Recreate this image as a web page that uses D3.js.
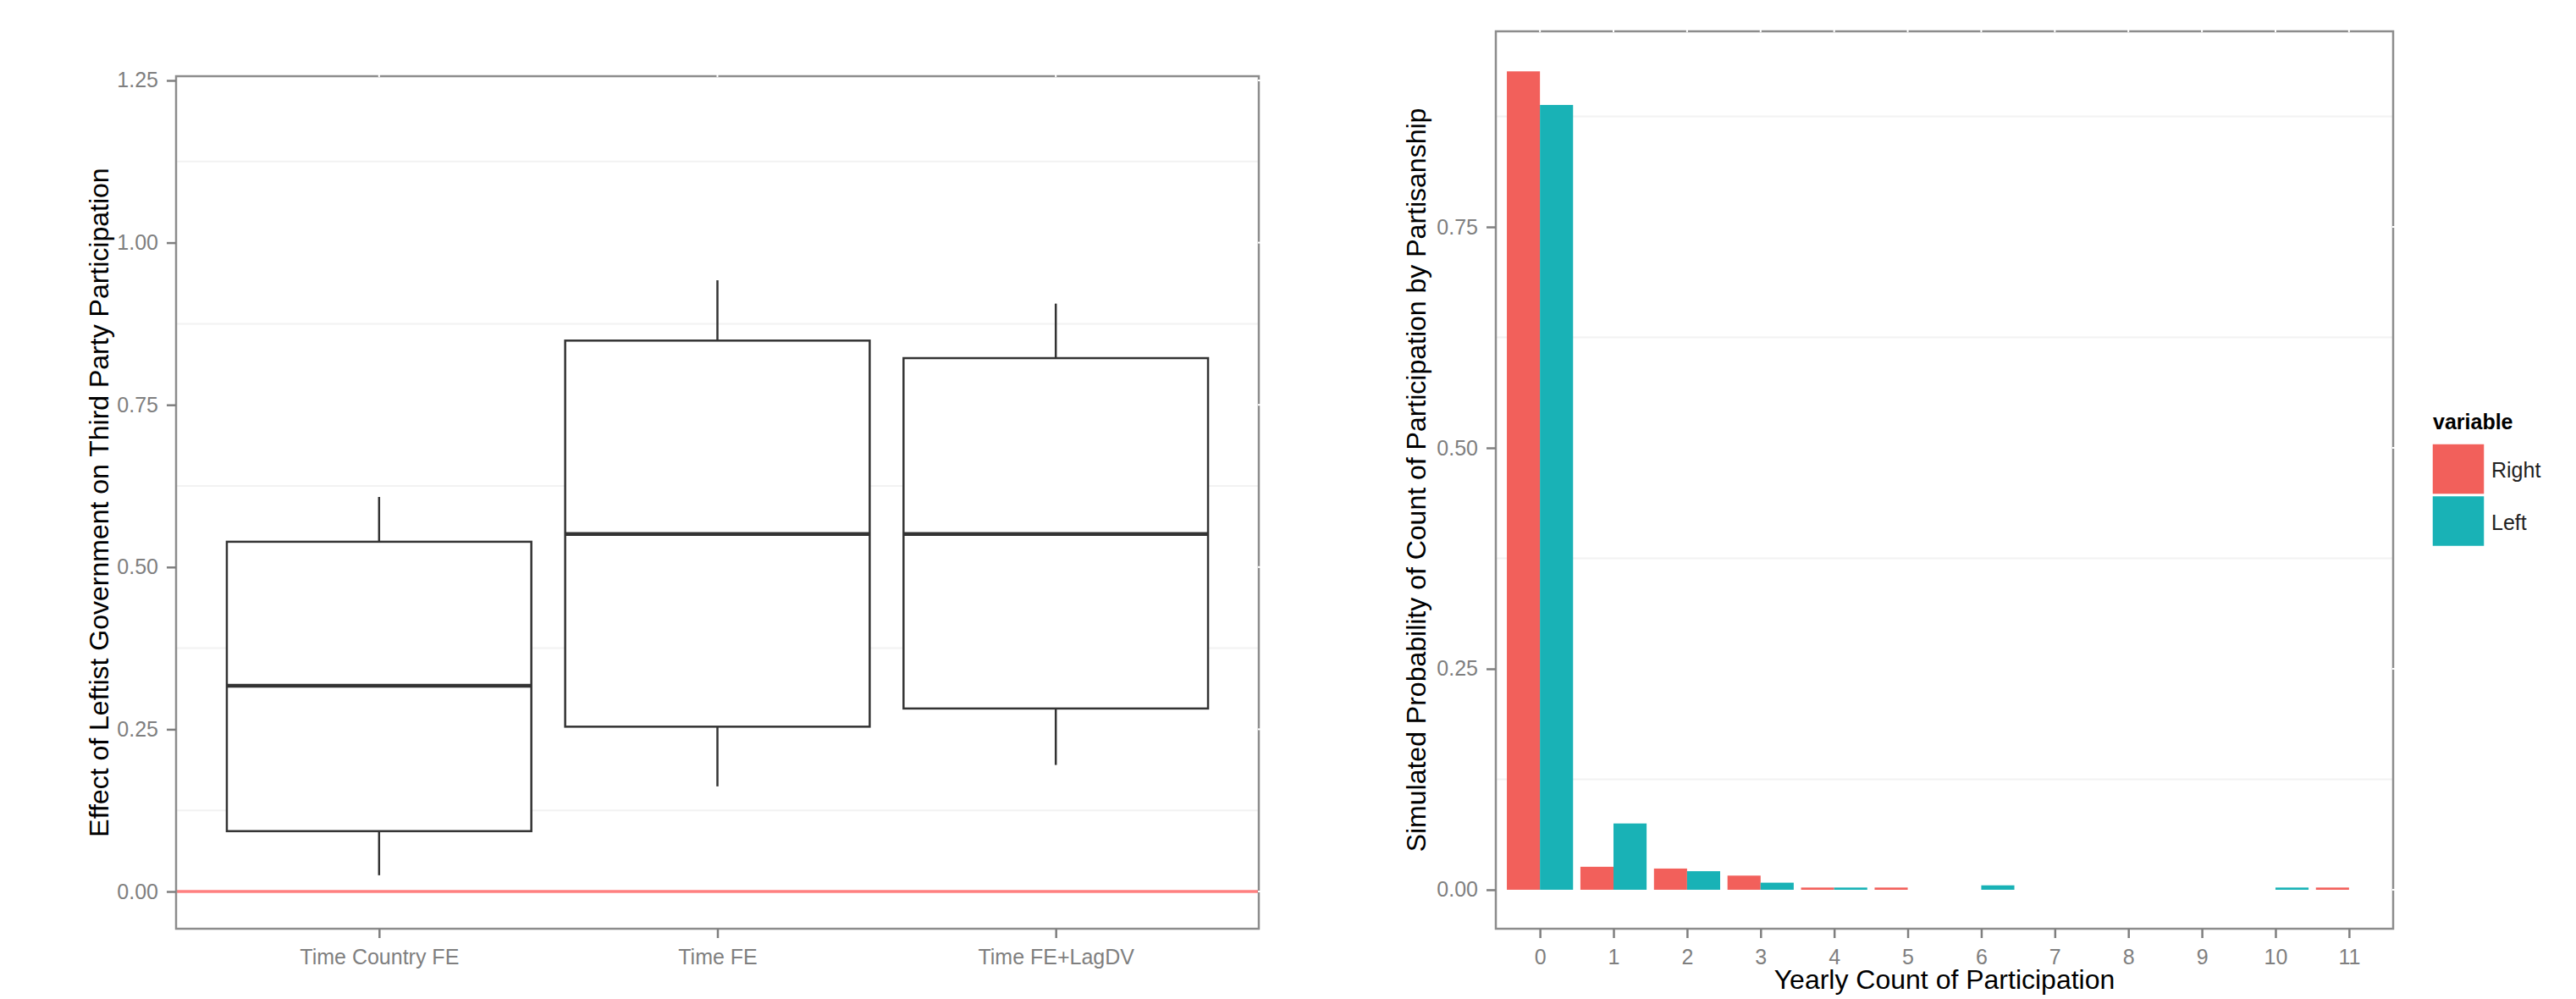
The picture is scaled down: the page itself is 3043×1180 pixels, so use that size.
<!DOCTYPE html>
<html>
<head>
<meta charset="utf-8">
<script src="https://cdn.jsdelivr.net/npm/d3@7"></script>
<style>
  body { margin: 0; background: #fff; }
  text { font-family: "Liberation Sans", Arial, sans-serif; }
</style>
</head>
<body>
<figure id="chart" style="margin:0"></figure>
<script>
// left panel: boxplot of estimated effect per model
const models = ["Time Country FE", "Time FE", "Time FE+LagDV"];
const whiskerLow = [0.025, 0.162, 0.195];
const quart1 = [0.093, 0.254, 0.282];
const medians = [0.317, 0.551, 0.551];
const quart3 = [0.539, 0.849, 0.822];
const whiskerHigh = [0.608, 0.942, 0.906];
const boxTicks = [0, 0.25, 0.5, 0.75, 1, 1.25];

// right panel: simulated probability of yearly count
const counts = ["0", "1", "2", "3", "4", "5", "6", "7", "8", "9", "10", "11"];
const seriesNames = ["Right", "Left"];
const rightProb = [0.926, 0.026, 0.024, 0.016, 0.0025, 0.0025, 0, 0, 0, 0, 0, 0.0025];
const leftProb = [0.888, 0.075, 0.021, 0.008, 0.0025, 0, 0.005, 0, 0, 0, 0.0025, 0];
const barTicks = [0, 0.25, 0.5, 0.75];
const seriesColors = ["#f2605b", "#19b2b6"];

const W = 3043, H = 1180;
const svg = d3.select("#chart").append("svg")
  .attr("width", W).attr("height", H)
  .style("display", "block");
svg.append("rect").attr("width", W).attr("height", H).attr("fill", "#fff");

const borderCol = "#8c8c8c";
const tickCol = "#7f7f7f";

function minorGrid(g, y, ticks, x0, x1) {
  const minors = d3.pairs(ticks).map(p => (p[0] + p[1]) / 2);
  g.append("g").selectAll("line").data(minors).enter().append("line")
    .attr("x1", x0).attr("x2", x1)
    .attr("y1", d => y(d)).attr("y2", d => y(d))
    .attr("stroke", "#f2f2f2").attr("stroke-width", 2);
}

function styleAxis(sel) {
  sel.select(".domain").remove();
  sel.selectAll(".tick line").attr("stroke", tickCol).attr("stroke-width", 2.5);
  sel.selectAll(".tick text").attr("fill", tickCol).style("font-size", "25px");
}

// the white major grid only shows where it nicks the frame (top and right)
function frameNicks(g, xs, ys, x1, y0) {
  g.append("g").selectAll("line").data(xs).enter().append("line")
    .attr("x1", d => d).attr("x2", d => d).attr("y1", y0 - 2).attr("y2", y0 + 1)
    .attr("stroke", "#fff").attr("stroke-width", 2);
  g.append("g").selectAll("line").data(ys).enter().append("line")
    .attr("x1", x1 - 1).attr("x2", x1 + 2).attr("y1", d => d).attr("y2", d => d)
    .attr("stroke", "#fff").attr("stroke-width", 2);
}

// ---------- left panel ----------
{
  const x0 = 208, x1 = 1487, y0 = 90, y1 = 1097;
  const x = d3.scalePoint().domain(models).range([x0, x1]).padding(0.6);
  const y = d3.scaleLinear().domain([-0.0574, 1.2565]).range([y1, y0]);
  const g = svg.append("g");

  minorGrid(g, y, boxTicks, x0, x1);

  const boxW = x.step() * 0.9;
  const boxes = g.append("g").selectAll("g").data(models).enter().append("g");
  boxes.append("line")
    .attr("x1", d => x(d)).attr("x2", d => x(d))
    .attr("y1", (d, i) => y(whiskerHigh[i])).attr("y2", (d, i) => y(quart3[i]))
    .attr("stroke", "#333").attr("stroke-width", 2.5);
  boxes.append("line")
    .attr("x1", d => x(d)).attr("x2", d => x(d))
    .attr("y1", (d, i) => y(quart1[i])).attr("y2", (d, i) => y(whiskerLow[i]))
    .attr("stroke", "#333").attr("stroke-width", 2.5);
  boxes.append("rect")
    .attr("x", d => x(d) - boxW / 2).attr("width", boxW)
    .attr("y", (d, i) => y(quart3[i]))
    .attr("height", (d, i) => y(quart1[i]) - y(quart3[i]))
    .attr("fill", "#fff").attr("stroke", "#333").attr("stroke-width", 2.5);
  boxes.append("line")
    .attr("x1", d => x(d) - boxW / 2).attr("x2", d => x(d) + boxW / 2)
    .attr("y1", (d, i) => y(medians[i])).attr("y2", (d, i) => y(medians[i]))
    .attr("stroke", "#333").attr("stroke-width", 4.5);

  // zero reference line
  g.append("line")
    .attr("x1", x0).attr("x2", x1).attr("y1", y(0)).attr("y2", y(0))
    .attr("stroke", "#ff8080").attr("stroke-width", 3.5);

  g.append("rect")
    .attr("x", x0).attr("y", y0).attr("width", x1 - x0).attr("height", y1 - y0)
    .attr("fill", "none").attr("stroke", borderCol).attr("stroke-width", 2.5);
  frameNicks(g, models.map(x), boxTicks.map(y), x1, y0);

  g.append("g").attr("transform", "translate(" + x0 + ",0)")
    .call(d3.axisLeft(y).tickValues(boxTicks).tickFormat(d3.format(".2f")).tickSize(11).tickPadding(10))
    .call(styleAxis);
  g.append("g").attr("transform", "translate(0," + y1 + ")")
    .call(d3.axisBottom(x).tickSize(11).tickPadding(13))
    .call(styleAxis);

  g.append("text")
    .attr("transform", "translate(128," + (y0 + y1) / 2 + ") rotate(-90)")
    .attr("text-anchor", "middle").style("font-size", "32px").attr("fill", "#000")
    .text("Effect of Leftist Government on Third Party Participation");
}

// ---------- right panel ----------
{
  const x0 = 1767, x1 = 2827, y0 = 37, y1 = 1097;
  const x = d3.scalePoint().domain(counts).range([x0, x1]).padding(0.6);
  const y = d3.scaleLinear().domain([-0.0441, 0.9713]).range([y1, y0]);
  const g = svg.append("g");

  minorGrid(g, y, barTicks.concat([1]), x0, x1);

  const half = x.step() * 0.45;
  const series = [rightProb, leftProb];
  series.forEach((vals, s) => {
    g.append("g").selectAll("rect")
      .data(counts.map((c, i) => ({ c: c, v: vals[i] })).filter(d => d.v > 0))
      .enter().append("rect")
      .attr("x", d => x(d.c) - half + s * half)
      .attr("width", half)
      .attr("y", d => y(d.v))
      .attr("height", d => y(0) - y(d.v))
      .attr("fill", seriesColors[s]);
  });

  g.append("rect")
    .attr("x", x0).attr("y", y0).attr("width", x1 - x0).attr("height", y1 - y0)
    .attr("fill", "none").attr("stroke", borderCol).attr("stroke-width", 2.5);
  frameNicks(g, counts.map(x), barTicks.map(y), x1, y0);

  g.append("g").attr("transform", "translate(" + x0 + ",0)")
    .call(d3.axisLeft(y).tickValues(barTicks).tickFormat(d3.format(".2f")).tickSize(11).tickPadding(10))
    .call(styleAxis);
  g.append("g").attr("transform", "translate(0," + y1 + ")")
    .call(d3.axisBottom(x).tickSize(11).tickPadding(13))
    .call(styleAxis);

  g.append("text")
    .attr("transform", "translate(1684," + (y0 + y1) / 2 + ") rotate(-90)")
    .attr("text-anchor", "middle").style("font-size", "32px").attr("fill", "#000")
    .text("Simulated Probability of Count of Participation by Partisanship");
  g.append("text")
    .attr("x", (x0 + x1) / 2).attr("y", 1168)
    .attr("text-anchor", "middle").style("font-size", "32px").attr("fill", "#000")
    .text("Yearly Count of Participation");

  // legend
  const lg = g.append("g").attr("transform", "translate(2873,0)");
  lg.append("text").attr("x", 1).attr("y", 507)
    .style("font-size", "25px").style("font-weight", "bold").attr("fill", "#000")
    .text("variable");
  const keys = lg.selectAll("g.key").data(seriesNames).enter().append("g")
    .attr("transform", (d, i) => "translate(0," + (524 + i * 61.5) + ")");
  keys.append("rect")
    .attr("width", 62).attr("height", 60)
    .attr("fill", (d, i) => seriesColors[i])
    .attr("stroke", "#fff").attr("stroke-width", 1.5);
  keys.append("text")
    .attr("x", 70).attr("y", 40)
    .style("font-size", "25px").attr("fill", "#222")
    .text(d => d);
}
</script>
</body>
</html>
